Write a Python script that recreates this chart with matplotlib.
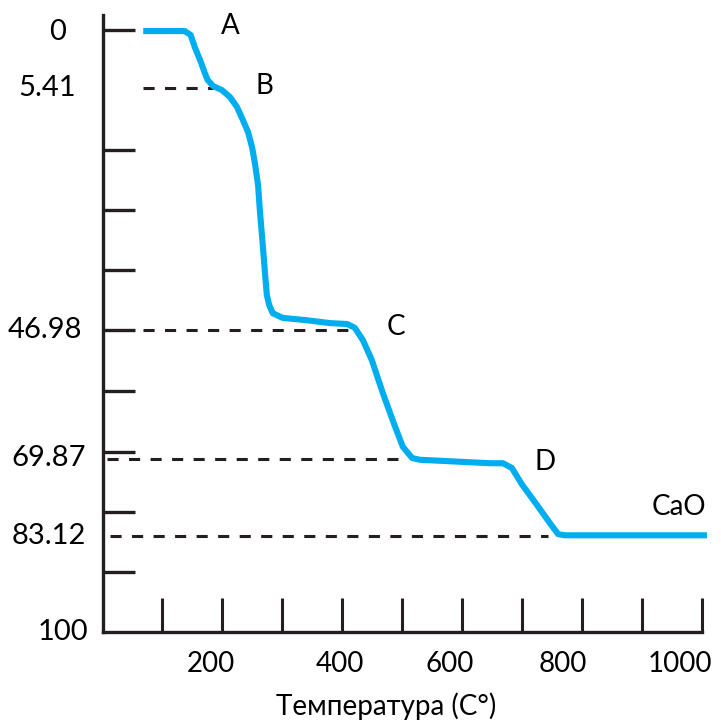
import numpy as np
import matplotlib.pyplot as plt

plt.rcParams['font.family'] = ['Lato', 'DejaVu Sans']
plt.rcParams['lines.scale_dashes'] = False

# thermogram: temperature (C) vs mass loss (%)
temp = [84, 155, 165, 172, 181, 189, 194, 203, 218, 232, 244, 254, 263, 270,
        275, 280, 283, 288, 292, 295, 299, 305, 322, 363, 403, 432, 445, 459,
        474, 493, 514, 527, 543, 556, 676, 698, 713, 730, 756, 778, 792, 804, 1046]
loss = [0.1, 0.1, 0.47, 1.6, 2.8, 4.0, 4.66, 5.22, 5.75, 6.96, 8.67, 10.9, 13.0, 15.7,
        18.6, 22.1, 26.4, 32.4, 37.5, 41.0, 42.7, 44.1, 44.9, 45.3, 45.8, 45.95, 46.6, 48.8,
        52.3, 58.2, 64.2, 67.7, 69.7, 70.0, 70.6, 70.6, 71.4, 74.2, 77.8, 80.9, 82.8, 83.0, 83.0]

# marked mass-loss levels and the span of their dashed guide lines
levels = [5.41, 46.98, 69.87, 83.12]
level_from = [84, 84, 22, 27]
level_to = [203, 440, 522, 775]

y_labels = ['0', '5.41', '46.98', '69.87', '83.12', '100']
x_labels = ['200', '400', '600', '800', '1000']
stages = ['A', 'B', 'C', 'D', 'CaO']

BLUE = '#00AEEF'
INK = '#231F20'

# the sketch's y axis is not linear: pin each labelled value to its pixel row
anchor_val = [-2.8, 0, 5.41, 46.98, 69.87, 83.12, 100, 116]
anchor_px = [0, 30, 88, 330, 459, 536, 632, 723]


def fwd(v):
    return np.interp(v, anchor_val, anchor_px)


def inv(p):
    return np.interp(p, anchor_px, anchor_val)


def px2t(p):
    return (p - 94) / 0.586


W, H = 721, 723
fig = plt.figure(figsize=(W / 100, H / 100), dpi=100)
ax = fig.add_axes([103 / W, (H - 632) / H, (712 - 103) / W, (632 - 15) / H])

ax.set_yscale('function', functions=(fwd, inv))
ax.set_ylim(100, inv(15))
ax.set_xlim(px2t(103), px2t(712))

ax.plot(temp, loss, color=BLUE, lw=4.4, solid_joinstyle='round',
        solid_capstyle='butt', clip_on=False, zorder=3)

for lv, a, b in zip(levels, level_from, level_to):
    ax.plot([a, b], [lv, lv], color=INK, lw=2.2, dashes=(8, 7.5), zorder=2)

for side in ['top', 'right']:
    ax.spines[side].set_visible(False)
for side in ['left', 'bottom']:
    ax.spines[side].set_linewidth(2.4)
    ax.spines[side].set_color(INK)
ax.spines['bottom'].set_bounds(px2t(103), px2t(702))

ax.set_xticks(px2t(162 + 60 * np.arange(10)))
ax.set_yticks(inv(np.array([30, 150, 210, 270, 330, 391, 452, 512, 572])))
ax.tick_params(axis='x', direction='in', length=24.5, width=2.2, color=INK,
               labelbottom=False)
ax.tick_params(axis='y', direction='in', length=23, width=2.4, color=INK,
               labelleft=False)


def put(s, x, y, size=20):
    fig.text(x / W, 1 - y / H, s, ha='center', va='center', fontsize=size,
             color='black')


for s, (x, y) in zip(y_labels, [(58, 32), (47, 88), (45, 330), (49, 458),
                                (49, 536), (63, 632)]):
    put(s, x, y, 21)
for s, x in zip(x_labels, [211, 340, 450, 563, 680]):
    put(s, x, 664)
for s, (x, y) in zip(stages, [(230, 26), (264, 86), (396, 327), (545, 462),
                              (679, 507)]):
    put(s, x, y)
put('Температура (C°)', 386, 706)

fig.savefig('out.png', dpi=100)
